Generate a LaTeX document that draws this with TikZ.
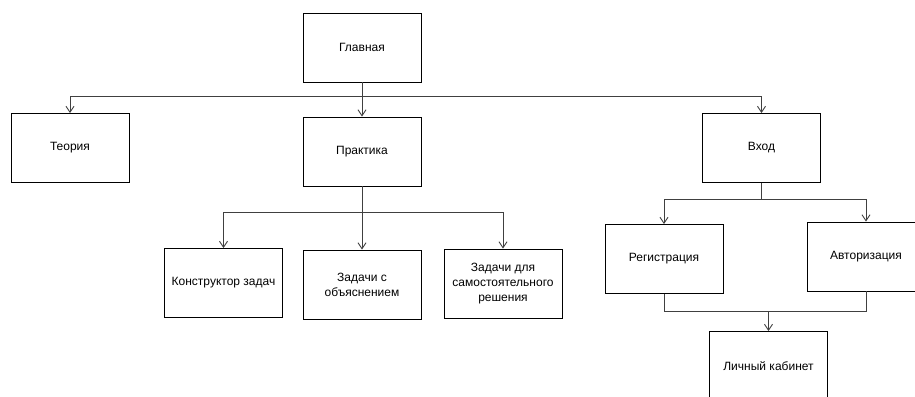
\documentclass[tikz,border=0pt]{standalone}
\usepackage{fontspec}
\setmainfont{Liberation Sans}
\usetikzlibrary{arrows.meta}

\begin{document}
\begin{tikzpicture}[x=1pt,y=-1pt]
        \useasboundingbox (0,0) rectangle (915,396);
        \clip (0,0) rectangle (915,396);

        \edef\boxw{118pt}
        \edef\boxh{69pt}
        \tikzstyle{page}=[draw=black,line width=0.9pt,minimum width=\boxw,minimum height=\boxh,
                          align=center,font=\fontsize{12}{15}\selectfont]
        \tikzstyle{link}=[draw={rgb,255:red,64;green,64;blue,64},line width=0.9pt,
                          -{Straight Barb[length=6pt,width=8pt]}]
        \tikzstyle{wire}=[draw={rgb,255:red,64;green,64;blue,64},line width=0.9pt]

        \node [page] (main)        at (362,47.5)  {Главная};
        \node [page] (theory)      at (70,148)    {Теория};
        \node [page] (practice)    at (362,151.5) {Практика};
        \node [page] (login)       at (761.5,148) {Вход};
        \node [page] (constructor) at (223.5,283) {Конструктор задач};
        \node [page] (explained)   at (362,284.5) {Задачи с\\объяснением};
        \node [page] (selfsolve)   at (503,283.5) {Задачи для\\самостоятельного\\решения};
        \node [page] (register)    at (664,259)   {Регистрация};
        \node [page] (auth)        at (866,256.5) {Авторизация};
        \node [page] (cabinet)     at (768.5,366) {Личный кабинет};

        \coordinate (topbus)   at (362,96);
        \coordinate (midbus)   at (362,212);
        \coordinate (loginbus) at (761.5,199);
        \coordinate (joinbus)  at (768.5,311);

        \draw[link] (main.south) to (practice.north);            % main->practice
        \draw[link] (topbus) -| (theory.north);                  % main->theory
        \draw[link] (topbus) -| (login.north);                   % main->login
        \draw[link] (practice.south) to (explained.north);       % practice->explained
        \draw[link] (midbus) -| (constructor.north);             % practice->constructor
        \draw[link] (midbus) -| (selfsolve.north);               % practice->selfsolve
        \draw[wire] (login.south) to (loginbus);
        \draw[link] (loginbus) -| (register.north);              % login->register
        \draw[link] (loginbus) -| (auth.north);                  % login->auth
        \draw[wire] (register.south) |- (joinbus);
        \draw[wire] (auth.south) |- (joinbus);
        \draw[link] (joinbus) to (cabinet.north);                % register/auth->cabinet

\end{tikzpicture}
\end{document}
